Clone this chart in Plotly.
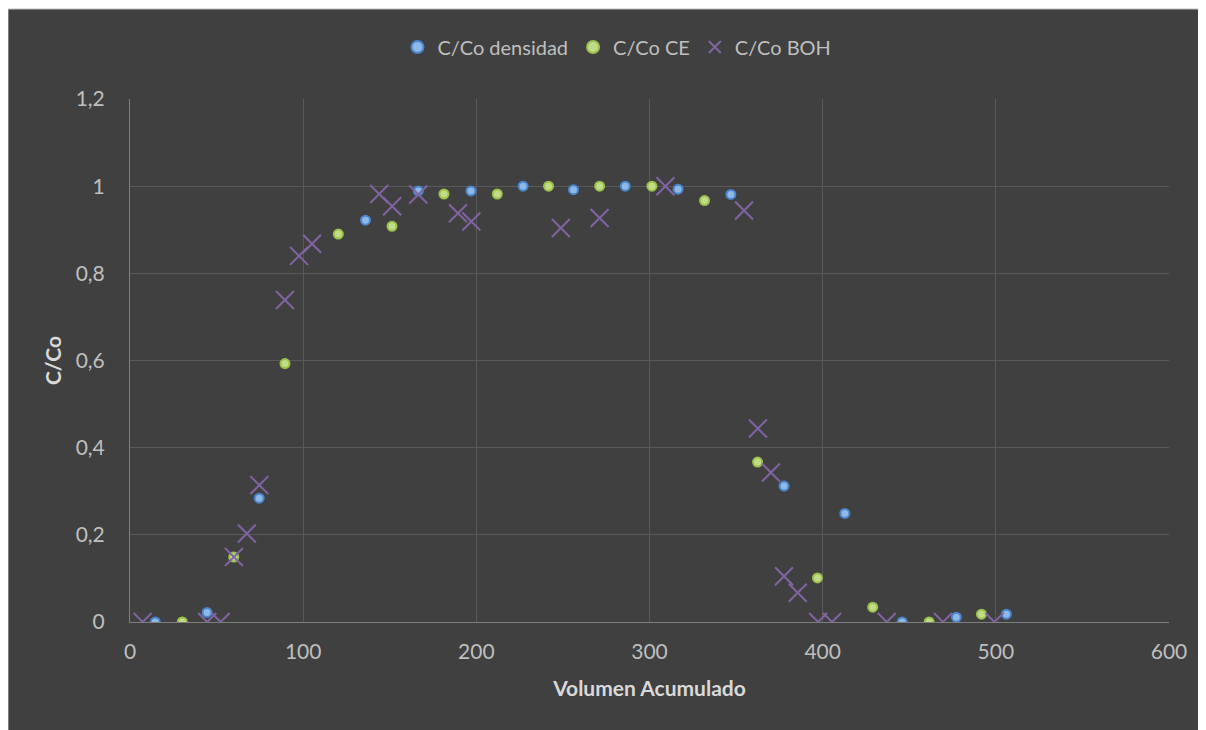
import plotly.graph_objects as go

# C/Co densidad (blue circles)
dens_x = [14.6, 44.5, 74.6, 136.0, 166.5, 196.9, 227.0, 256.1, 286.0, 316.5, 347.0, 377.7, 412.8, 445.9, 477.2, 506.1]
dens_y = [0.0, 0.022, 0.284, 0.922, 0.989, 0.989, 1.0, 0.992, 1.0, 0.993, 0.981, 0.312, 0.249, 0.0, 0.011, 0.018]

# C/Co CE (green circles)
ce_x = [30.2, 59.9, 89.5, 120.3, 151.3, 181.3, 212.1, 241.7, 271.2, 301.4, 331.8, 362.4, 397.0, 428.9, 461.5, 491.7]
ce_y = [0.0, 0.149, 0.593, 0.890, 0.908, 0.982, 0.982, 1.0, 1.0, 1.0, 0.967, 0.367, 0.101, 0.034, 0.0, 0.018]

# C/Co BOH (purple crosses)
boh_x = [7.3, 44.6, 52.3, 60.0, 67.5, 74.7, 89.5, 97.6, 105.1, 143.9, 151.4, 166.5, 189.4, 197.1, 248.8,
         271.2, 309.2, 354.6, 362.6, 370.1, 377.7, 385.6, 397.4, 405.4, 437.0, 469.5, 499.2]
boh_y = [0.0, 0.0, 0.0, 0.149, 0.203, 0.314, 0.739, 0.840, 0.868, 0.982, 0.954, 0.981, 0.938, 0.919, 0.904,
         0.927, 1.0, 0.944, 0.444, 0.343, 0.105, 0.067, 0.0, 0.0, 0.0, 0.0, 0.0]

x_ticks = [0, 100, 200, 300, 400, 500, 600]
y_ticks = [0, 0.2, 0.4, 0.6, 0.8, 1.0, 1.2]

FONT = "Lato, 'Open Sans', sans-serif"
BG = "#404040"
TICK_COL = "#BFBFBF"
GRID = "#595959"

fig = go.Figure()
fig.add_trace(go.Scatter(
    x=dens_x, y=dens_y, mode="markers", name="C/Co densidad",
    marker=dict(symbol="circle", size=9, color="#8DB8E8", line=dict(color="#4A86CC", width=2))))
fig.add_trace(go.Scatter(
    x=ce_x, y=ce_y, mode="markers", name="C/Co CE",
    marker=dict(symbol="circle", size=9, color="#C0DC86", line=dict(color="#9CC24C", width=2))))
fig.add_trace(go.Scatter(
    x=boh_x, y=boh_y, mode="markers", name="C/Co BOH",
    marker=dict(symbol="x-thin", size=18, color="#8064A2", line=dict(color="#8064A2", width=2))))

# page has an 8px body margin; figure placed so the plot area lands at 130..1169 x 99..621.7
OFF = 8
W, H = 1198, 722
L, R, T, B = 122, 37, 91, 108
pw, ph = W - L - R, H - T - B

def px_x(p):
    return (p - OFF - L) / pw

def px_y(p):
    return (OFF + H - B - p) / ph

fig.add_shape(type="rect", xref="paper", yref="paper",
              x0=px_x(8), x1=px_x(1201), y0=px_y(735), y1=px_y(9),
              fillcolor=BG, line=dict(color="#BFBFBF", width=1), layer="below")

fig.update_layout(
    width=W, height=H,
    margin=dict(l=L, r=R, t=T, b=B),
    paper_bgcolor="white", plot_bgcolor=BG,
    separators=",.",
    font=dict(family=FONT, size=21, color=TICK_COL),
    showlegend=True,
    legend=dict(orientation="h", x=px_x(617), xanchor="center", y=px_y(47), yanchor="middle",
                bgcolor="rgba(0,0,0,0)", font=dict(size=20, color=TICK_COL),
                itemsizing="constant", tracegroupgap=0),
    xaxis=dict(range=[0, 600], tickvals=x_ticks, showgrid=True, gridcolor=GRID, gridwidth=1,
               zeroline=False, showline=True, linecolor="#7F7F7F", linewidth=1,
               ticks="outside", ticklen=11, tickcolor="rgba(0,0,0,0)",
               tickfont=dict(size=21, color=TICK_COL),
               title=dict(text="<b>Volumen Acumulado</b>", font=dict(size=21, color="#D9D9D9"), standoff=19)),
    yaxis=dict(range=[0, 1.2], tickvals=y_ticks, showgrid=True, gridcolor=GRID, gridwidth=1,
               zeroline=False, showline=True, linecolor="#7F7F7F", linewidth=1,
               ticks="outside", ticklen=20, tickcolor="rgba(0,0,0,0)",
               tickfont=dict(size=21, color=TICK_COL),
               title=dict(text="<b>C/Co</b>", font=dict(size=21, color="#D9D9D9"), standoff=8)),
)

fig.write_html("out.html")
